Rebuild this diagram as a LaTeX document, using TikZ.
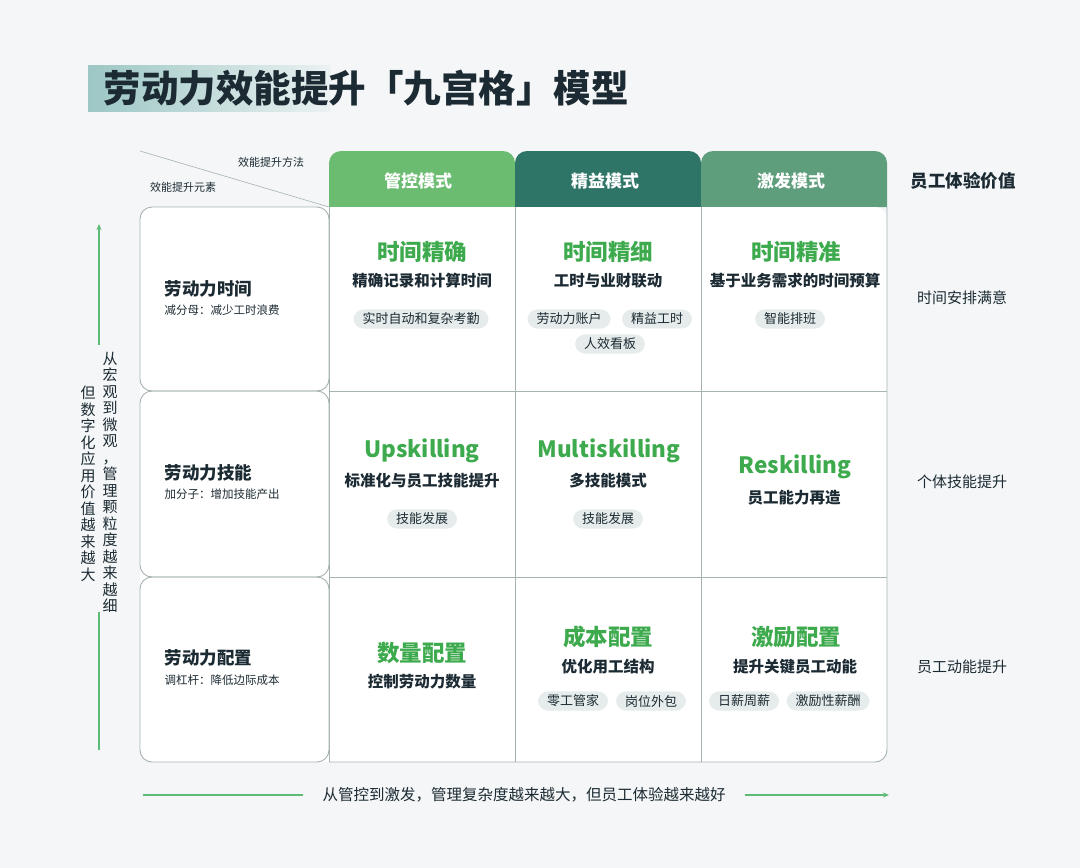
\documentclass[tikz,border=0pt]{standalone}
\usepackage{fontspec}
\setmainfont{Noto Sans CJK SC}
\usetikzlibrary{arrows.meta}
\definecolor{bg}{HTML}{F4F6F7}
\definecolor{ink}{HTML}{1C2B33}
\definecolor{gridc}{HTML}{A6B3B3}
\definecolor{hA}{HTML}{6BBB70}
\definecolor{hB}{HTML}{2E7567}
\definecolor{hC}{HTML}{5F9E7D}
\definecolor{tgreen}{HTML}{3DAA4D}
\definecolor{pill}{HTML}{E6ECEB}
\definecolor{arr}{HTML}{5DBB77}
\definecolor{band}{HTML}{9CC7C4}
\tikzset{
 x=1pt,y=-1pt,
 celltitle/.style={font=\fontsize{22.5}{24}\selectfont\bfseries,text=tgreen},
 cellsub/.style={font=\fontsize{15.5}{17}\selectfont\bfseries,text=ink},
 pillbox/.style={fill=pill,rounded corners=10,inner xsep=9pt,inner ysep=3.5pt,font=\fontsize{13}{15}\selectfont,text=ink},
 rowhead/.style={anchor=west,font=\fontsize{17.5}{19}\selectfont\bfseries,text=ink},
 rowsub/.style={anchor=west,font=\fontsize{11.5}{13}\selectfont,text=ink},
 colhead/.style={font=\fontsize{17}{19}\selectfont\bfseries,text=white},
 valtext/.style={font=\fontsize{15}{17}\selectfont,text=ink},
 small/.style={font=\fontsize{11}{13}\selectfont,text=ink},
 vtext/.style={anchor=north,align=center,inner sep=0pt,font=\fontsize{15}{16.5}\selectfont,text=ink},
 gridline/.style={draw=gridc,line width=0.9pt},
}
\begin{document}
\begin{tikzpicture}
\fill[bg] (0,0) rectangle (1080,868);
\useasboundingbox (0,0) rectangle (1080,868);
% title band
\shade[left color=band,right color=band!10!bg] (88,65) rectangle (330,111);
\node[anchor=west,font=\fontsize{37.5}{40}\selectfont\bfseries,text=ink] (title) at (100,88) {劳动力效能提升「九宫格」模型};
% headers
\fill[hA] (329,207) [rounded corners=12]-- (329,151) -- (515,151) [sharp corners]-- (515,207) -- cycle;
\fill[hB] (515,207) [rounded corners=12]-- (515,151) -- (701,151) [sharp corners]-- (701,207) -- cycle;
\fill[hC] (701,207) [rounded corners=12]-- (701,151) -- (887,151) [sharp corners]-- (887,207) -- cycle;
\node[colhead] (h1) at (418,181) {管控模式};
\node[colhead] (h2) at (605,181) {精益模式};
\node[colhead] (h3) at (791,181) {激发模式};
\node[font=\fontsize{17.5}{19}\selectfont\bfseries,text=ink] (h4) at (963,181) {员工体验价值};
% diagonal
\draw[gridc,line width=0.6pt] (140,151) -- (329,207);
\node[small] (dm) at (271,162) {效能提升方法};
\node[small] (de) at (183,187) {效能提升元素};
% grid
\fill[white,rounded corners=12] (140,207) rectangle (887,762);
\draw[gridline,rounded corners=12] (140,207) rectangle (329,391);
\draw[gridline,rounded corners=12] (140,391) rectangle (329,577);
\draw[gridline,rounded corners=12] (140,577) rectangle (329,762);
\draw[gridline] (329,207) -- (329,762);
\draw[gridline] (515,207) -- (515,762);
\draw[gridline] (701,207) -- (701,762);
\draw[gridline,rounded corners=12] (887,207) -- (887,762) -- (329,762);
\draw[gridline] (329,391) -- (887,391);
\draw[gridline] (329,577) -- (887,577);
% row heads
\node[rowhead] (r1) at (161,289) {劳动力时间};
\node[rowsub] (r1s) at (161,310) {减分母：减少工时浪费};
\node[rowhead] (r2) at (161,473) {劳动力技能};
\node[rowsub] (r2s) at (161,494) {加分子：增加技能产出};
\node[rowhead] (r3) at (161,658) {劳动力配置};
\node[rowsub] (r3s) at (161,680) {调杠杆：降低边际成本};
% row 1
\node[celltitle] (a1) at (422,252) {时间精确};
\node[cellsub] (a1s) at (422,281) {精确记录和计算时间};
\node[pillbox] (a1p) at (421,319) {实时自动和复杂考勤};
\node[celltitle] (b1) at (608,252) {时间精细};
\node[cellsub] (b1s) at (608,281) {工时与业财联动};
\node[pillbox] (b1p) at (569,319) {劳动力账户};
\node[pillbox] (b1q) at (657,319) {精益工时};
\node[pillbox] (b1r) at (610,344) {人效看板};
\node[celltitle] (c1) at (796,252) {时间精准};
\node[cellsub] (c1s) at (795,281) {基于业务需求的时间预算};
\node[pillbox] (c1p) at (790,319) {智能排班};
% row 2
\node[celltitle] (a2) at (422,451) {Upskilling};
\node[cellsub] (a2s) at (422,481) {标准化与员工技能提升};
\node[pillbox] (a2p) at (422,519) {技能发展};
\node[celltitle] (b2) at (609,451) {Multiskilling};
\node[cellsub] (b2s) at (608,481) {多技能模式};
\node[pillbox] (b2p) at (608,519) {技能发展};
\node[celltitle] (c2) at (795,467) {Reskilling};
\node[cellsub] (c2s) at (794,498) {员工能力再造};
% row 3
\node[celltitle] (a3) at (422,653) {数量配置};
\node[cellsub] (a3s) at (422,682) {控制劳动力数量};
\node[celltitle] (b3) at (608,637) {成本配置};
\node[cellsub] (b3s) at (608,667) {优化用工结构};
\node[pillbox] (b3p) at (573,701) {零工管家};
\node[pillbox] (b3q) at (651,701) {岗位外包};
\node[celltitle] (c3) at (796,637) {激励配置};
\node[cellsub] (c3s) at (795,667) {提升关键员工动能};
\node[pillbox] (c3p) at (744,701) {日薪周薪};
\node[pillbox] (c3q) at (828,701) {激励性薪酬};
% right values
\node[valtext] (v1) at (962,298) {时间安排满意};
\node[valtext] (v2) at (962,482) {个体技能提升};
\node[valtext] (v3) at (962,667) {员工动能提升};
% vertical arrow + text
\coordinate (vb) at (99,750);
\coordinate (vm1) at (99,612);
\coordinate (vm2) at (99,345);
\coordinate (vt) at (99,224);
\draw[arr,line width=1.3pt] (vb) -- (vm1);
\draw[arr,line width=1.3pt,-{Stealth[length=6pt,width=5pt]}] (vm2) -- (vt);
\node[vtext] (vr) at (110,352) {从\\宏\\观\\到\\微\\观\\，\\管\\理\\颗\\粒\\度\\越\\来\\越\\细};
\node[vtext] (vl) at (88,386) {但\\数\\字\\化\\应\\用\\价\\值\\越\\来\\越\\大};
% bottom arrow
\coordinate (ba) at (143,795);
\coordinate (bb) at (303,795);
\coordinate (bc) at (745,795);
\coordinate (bd) at (889,795);
\draw[arr,line width=1.1pt] (ba) -- (bb);
\draw[arr,line width=1.1pt,-{Stealth[length=6pt,width=5pt]}] (bc) -- (bd);
\node[font=\fontsize{15.5}{17}\selectfont,text=ink] (bt) at (524,795) {从管控到激发，管理复杂度越来越大，但员工体验越来越好};
\end{tikzpicture}
\end{document}
